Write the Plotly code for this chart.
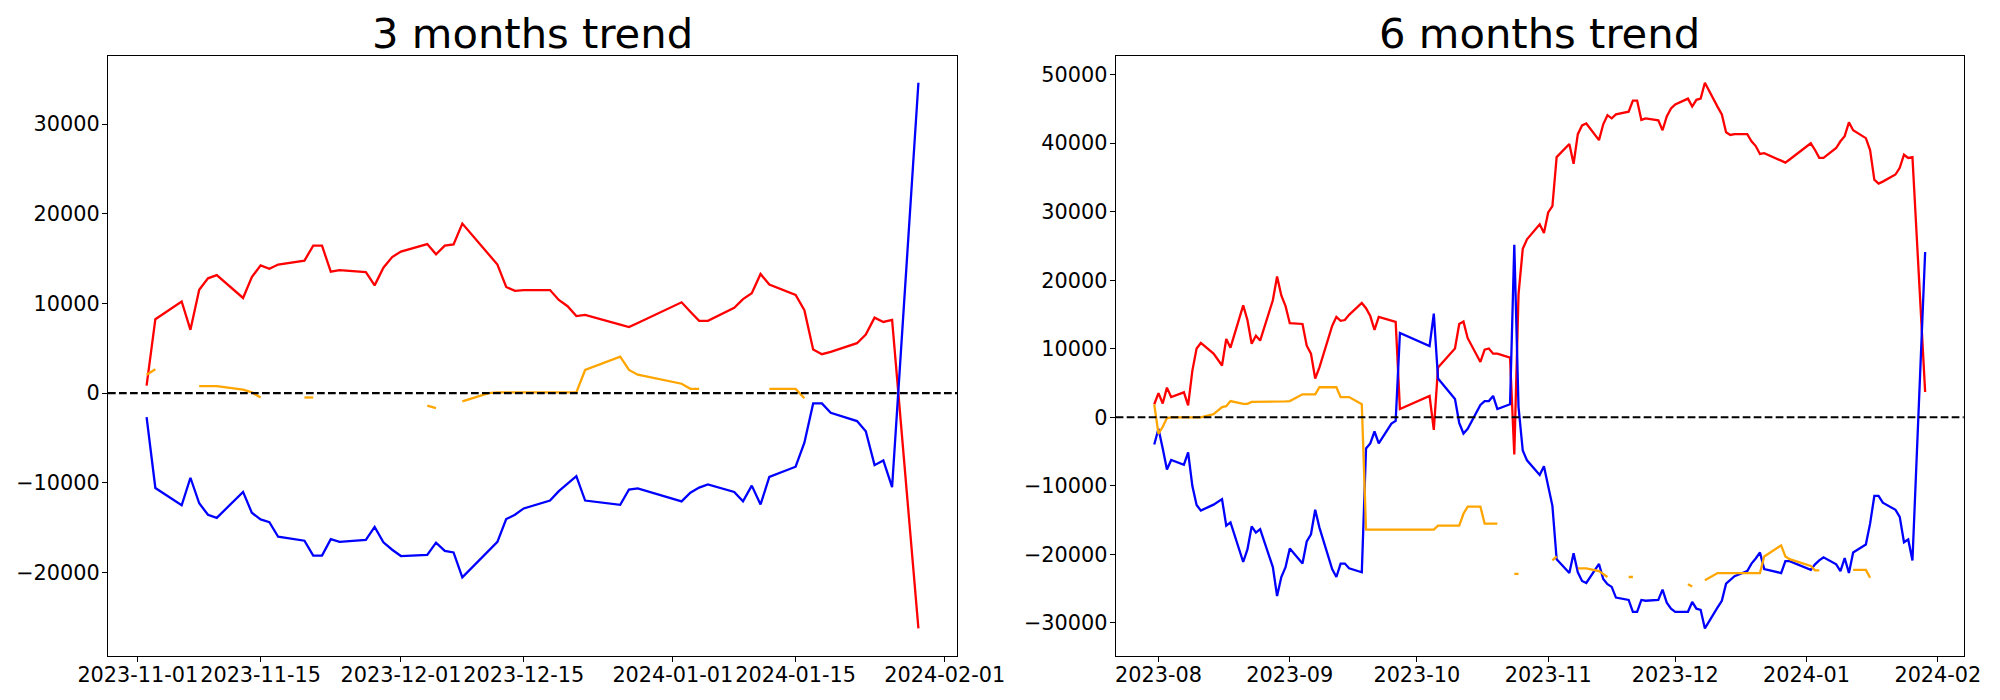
import pandas as pd
import plotly.graph_objects as go

# ---------------- 3 months data ----------------
dates_3m = ["2023-11-02", "2023-11-03", "2023-11-06", "2023-11-07", "2023-11-08", "2023-11-09",
            "2023-11-10", "2023-11-13", "2023-11-14", "2023-11-15", "2023-11-16", "2023-11-17",
            "2023-11-20", "2023-11-21", "2023-11-22", "2023-11-23", "2023-11-24", "2023-11-27",
            "2023-11-28", "2023-11-29", "2023-11-30", "2023-12-01", "2023-12-04", "2023-12-05",
            "2023-12-06", "2023-12-07", "2023-12-08", "2023-12-11", "2023-12-12", "2023-12-13",
            "2023-12-14", "2023-12-15", "2023-12-18", "2023-12-19", "2023-12-20", "2023-12-21",
            "2023-12-22", "2023-12-26", "2023-12-27", "2023-12-28", "2024-01-02", "2024-01-03",
            "2024-01-04", "2024-01-05", "2024-01-08", "2024-01-09", "2024-01-10", "2024-01-11",
            "2024-01-12", "2024-01-15", "2024-01-16", "2024-01-17", "2024-01-18", "2024-01-19",
            "2024-01-22", "2024-01-23", "2024-01-24", "2024-01-25", "2024-01-26", "2024-01-29"]
red_3m = [833, 8245, 10220, 7060, 11535, 12807, 13158, 10614, 12939, 14255, 13860, 14342,
          14781, 16448, 16448, 13553, 13728, 13509, 12018, 13991, 15176, 15790, 16623, 15483,
          16448, 16579, 18904, 15570, 14342, 11842, 11404, 11491, 11491, 10395, 9693, 8597,
          8728, 7632, 7368, 7824, 10132, 9079, 8070, 8070, 9518, 10483, 11140, 13290,
          12105, 10965, 9254, 4868, 4342, 4600, 5570, 6535, 8421, 7939, 8158, -26228]
blue_3m = [-2675, -10570, -12500, -9430, -12281, -13553, -13904, -11009, -13333, -14079, -14386, -16009,
           -16448, -18114, -18114, -16272, -16579, -16360, -14912, -16623, -17456, -18158, -18026, -16667,
           -17588, -17763, -20526, -17632, -16579, -14035, -13553, -12851, -11974, -10921, -10132, -9254,
           -11974, -12456, -10746, -10614, -12062, -11097, -10526, -10175, -11009, -12062, -10307, -12412,
           -9342, -8202, -5526, -1140, -1140, -2193, -3114, -4254, -8026, -7500, -10482, 34605]
orange_3m = [2061, 2675, None, None, 790, 790, 790, 395, 88, -482, None, None,
             -482, -482, None, None, None, None, None, None, None, None, -1400, -1670,
             None, None, -921, 0, 88, 88, 88, 88, 88, 88, 88, 88,
             2588, 4079, 2588, 2061, 1053, 482, 482, None, None, None, None, None,
             482, 482, -570, None, None, None, None, None, None, None, None, None]

# ---------------- 6 months data ----------------
dates_6m = ["2023-07-31", "2023-08-01", "2023-08-02", "2023-08-03", "2023-08-04", "2023-08-07",
            "2023-08-08", "2023-08-09", "2023-08-10", "2023-08-11", "2023-08-14", "2023-08-16",
            "2023-08-17", "2023-08-18", "2023-08-21", "2023-08-22", "2023-08-23", "2023-08-24",
            "2023-08-25", "2023-08-28", "2023-08-29", "2023-08-30", "2023-08-31", "2023-09-01",
            "2023-09-04", "2023-09-05", "2023-09-06", "2023-09-07", "2023-09-08", "2023-09-11",
            "2023-09-12", "2023-09-13", "2023-09-14", "2023-09-15", "2023-09-18", "2023-09-19",
            "2023-09-20", "2023-09-21", "2023-09-22", "2023-09-25", "2023-09-26", "2023-09-27",
            "2023-10-04", "2023-10-05", "2023-10-06", "2023-10-10", "2023-10-11", "2023-10-12",
            "2023-10-13", "2023-10-16", "2023-10-17", "2023-10-18", "2023-10-19", "2023-10-20",
            "2023-10-23", "2023-10-24", "2023-10-25", "2023-10-26", "2023-10-27", "2023-10-30",
            "2023-10-31", "2023-11-01", "2023-11-02", "2023-11-03", "2023-11-06", "2023-11-07",
            "2023-11-08", "2023-11-09", "2023-11-10", "2023-11-13", "2023-11-14", "2023-11-15",
            "2023-11-16", "2023-11-17", "2023-11-20", "2023-11-21", "2023-11-22", "2023-11-23",
            "2023-11-24", "2023-11-27", "2023-11-28", "2023-11-29", "2023-11-30", "2023-12-01",
            "2023-12-04", "2023-12-05", "2023-12-06", "2023-12-07", "2023-12-08", "2023-12-11",
            "2023-12-12", "2023-12-13", "2023-12-14", "2023-12-15", "2023-12-18", "2023-12-19",
            "2023-12-20", "2023-12-21", "2023-12-22", "2023-12-26", "2023-12-27", "2023-12-28",
            "2024-01-02", "2024-01-03", "2024-01-04", "2024-01-05", "2024-01-08", "2024-01-09",
            "2024-01-10", "2024-01-11", "2024-01-12", "2024-01-15", "2024-01-16", "2024-01-17",
            "2024-01-18", "2024-01-19", "2024-01-22", "2024-01-23", "2024-01-24", "2024-01-25",
            "2024-01-26", "2024-01-29"]
red_6m = [1904, 3520, 2020, 4328, 2943, 3635, 1731, 6809, 10040, 10848, 9290, 7559,
          11425, 10155, 16329, 14194, 10732, 11886, 11194, 17079, 20541, 17772, 16214, 13733,
          13617, 10444, 9290, 5655, 7270, 13329, 14656, 14079, 14194, 14944, 16675, 15925,
          14771, 12752, 14656, 14079, 13906, 1212, 3116, -1846, 7270, 10040, 13617, 13963,
          11540, 8078, 9867, 10040, 9290, 9290, 8713, -5424, 17945, 24580, 25965, 28158,
          26888, 29889, 30812, 37967, 39871, 36986, 41313, 42583, 42871, 40448, 42756, 44083,
          43621, 44198, 44602, 46218, 46218, 43390, 43621, 43333, 41890, 43910, 45064, 45641,
          46506, 45352, 46333, 46506, 48814, 45295, 44198, 41602, 41198, 41313, 41313, 40275,
          39582, 38428, 38544, 37447, 37159, 37620, 39986, 39005, 37851, 37851, 39294, 40275,
          41025, 43044, 41890, 40736, 39005, 34678, 34101, 34390, 35428, 36409, 38313, 37851,
          37967, 3693]
blue_6m = [-3981, -1673, -4558, -7616, -6232, -6924, -5135, -10040, -12809, -13617, -12752, -11944,
           -15810, -15348, -21118, -19272, -15925, -16820, -16330, -21868, -26080, -23311, -21868, -19156,
           -21349, -18118, -17079, -13502, -16098, -22157, -23311, -21349, -21349, -22041, -22618, -4558,
           -3808, -2077, -3808, -923, -519, 12300, 10386, 15117, 5655, 2654, -808, -2366,
           -1673, 1789, 2366, 2366, 3116, 1212, 1904, 25157, 1500, -4847, -6289, -8424,
           -7155, -10040, -12925, -20714, -22734, -19849, -22618, -23888, -24176, -21407, -23599, -24349,
           -24753, -26311, -26657, -28388, -28388, -26657, -26773, -26657, -25157, -27061, -27927, -28388,
           -28388, -26946, -27927, -28100, -30812, -27754, -26773, -24292, -23715, -23195, -22445, -21349,
           -20599, -19733, -22157, -22734, -21003, -21003, -22272, -21464, -20887, -20426, -21464, -22445,
           -20541, -22734, -19733, -18579, -15521, -11482, -11482, -12463, -13502, -14540, -18233, -17829,
           -20887, 24119]
orange_6m = [1904, -2423, -1385, -115, 0, 0, 0, 0, 0, 0, 462, 1500,
             1616, 2366, 1962, 1962, 2250, 2250, 2250, 2250, 2250, 2280, 2320, 2366,
             3347, 3347, 3347, 3347, 4385, 4385, 4385, 2943, 2943, 2943, 1904, -16387,
             -16387, -16387, -16387, -16387, -16387, -16387, -16387, -16387, -15810, -15810, -15810, -14079,
             -13040, -13040, -15521, -15521, -15521, -15521, None, -22849, -22849, None, None, None,
             None, None, -20887, -20310, None, None, -22041, -22041, -22041, -22445, -22850, -23311,
             None, None, -23311, -23311, None, None, None, None, None, None, None, None,
             -24349, -24696, None, None, -23772, -22734, -22734, -22734, -22734, -22734, -22734, -22734,
             -22734, -22734, -20310, -18695, -20310, -20714, -21695, -22330, -22330, None, None, None,
             None, None, -22272, -22272, -23426, None, None, None, None, None, None, None,
             None, None]

# ---------------- tick labels ----------------
xticks_3m = ["2023-11-01", "2023-11-15", "2023-12-01", "2023-12-15", "2024-01-01", "2024-01-15", "2024-02-01"]
xticks_6m = ["2023-08-01", "2023-09-01", "2023-10-01", "2023-11-01", "2023-12-01", "2024-01-01", "2024-02-01"]
xticklabels_6m = ["2023-08", "2023-09", "2023-10", "2023-11", "2023-12", "2024-01", "2024-02"]
yticks_3m = [-20000, -10000, 0, 10000, 20000, 30000]
yticks_6m = [-30000, -20000, -10000, 0, 10000, 20000, 30000, 40000, 50000]
titles = ["3 months trend", "6 months trend"]

FONT = "DejaVu Sans"
TICK_SIZE = 20.8
LW = 2.3


def ylabel(v):
    return str(v).replace("-", "\u2212")


def xr(dates):
    d = pd.to_datetime(pd.Series(dates))
    span = d.max() - d.min()
    return [(d.min() - span * 0.05).isoformat(), (d.max() + span * 0.05).isoformat()]


def yr(*series):
    vals = [v for s in series for v in s if v is not None]
    lo, hi = min(vals), max(vals)
    m = (hi - lo) * 0.05
    return [lo - m, hi + m]


fig = go.Figure()
for x, r, b, o, ax in [(dates_3m, red_3m, blue_3m, orange_3m, ""),
                       (dates_6m, red_6m, blue_6m, orange_6m, "2")]:
    for vals, col in [(r, "red"), (b, "blue"), (o, "orange")]:
        fig.add_trace(go.Scatter(x=x, y=vals, mode="lines", line=dict(color=col, width=LW),
                                 connectgaps=False, showlegend=False,
                                 xaxis="x" + ax, yaxis="y" + ax))

axis_common = dict(showline=True, linecolor="black", linewidth=1.1, mirror=True,
                   ticks="outside", ticklen=5, tickwidth=1.1, tickcolor="black",
                   showgrid=False, zeroline=False, automargin=False, tickangle=0,
                   tickfont=dict(family=FONT, size=TICK_SIZE, color="black"))

dom1 = [108 / 2000, 957 / 2000]
dom2 = [1115.7 / 2000, 1963.7 / 2000]
ydom = [44.3 / 700, 644.5 / 700]

fig.update_layout(
    width=2000, height=700,
    margin=dict(l=0, r=0, t=0, b=0),
    paper_bgcolor="white", plot_bgcolor="white",
    font=dict(family=FONT, color="black"),
    xaxis=dict(domain=dom1, type="date", range=xr(dates_3m), tickvals=xticks_3m,
               ticktext=xticks_3m, anchor="y", ticklabelstandoff=-5, **axis_common),
    yaxis=dict(domain=ydom, range=yr(red_3m, blue_3m, orange_3m), tickvals=yticks_3m,
               ticktext=[ylabel(v) for v in yticks_3m], anchor="x", ticklabelstandoff=-2,
               **axis_common),
    xaxis2=dict(domain=dom2, type="date", range=xr(dates_6m), tickvals=xticks_6m,
                ticktext=xticklabels_6m, anchor="y2", ticklabelstandoff=-5, **axis_common),
    yaxis2=dict(domain=ydom, range=yr(red_6m, blue_6m, orange_6m), tickvals=yticks_6m,
                ticktext=[ylabel(v) for v in yticks_6m], anchor="x2", ticklabelstandoff=-2,
                **axis_common),
)

for xref, yref in [("x domain", "y"), ("x2 domain", "y2")]:
    fig.add_shape(type="line", xref=xref, yref=yref, x0=0, x1=1, y0=0, y1=0,
                  line=dict(color="black", width=2.1, dash="7.7px,3.3px"))

for title, dom in zip(titles, [dom1, dom2]):
    fig.add_annotation(text=title, x=(dom[0] + dom[1]) / 2, y=ydom[1], xref="paper", yref="paper",
                       xanchor="center", yanchor="bottom", showarrow=False, yshift=-4,
                       font=dict(family=FONT, size=41.7, color="black"))

fig.write_html("out.html", config={"displayModeBar": False},
               post_script="document.body.style.margin='0';document.body.style.overflow='hidden';")
